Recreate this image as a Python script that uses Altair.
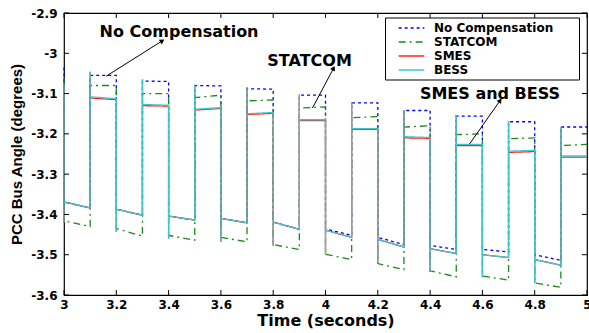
import math
import altair as alt
import pandas as pd

# ---------------- data ----------------
SERIES = ["No Compensation", "STATCOM", "SMES", "BESS"]
COLORS = ["#0000ff", "#1a8a1a", "#ff2020", "#3cc8c8"]
DASHES = [[3, 3], [7, 4, 2, 4], [1, 0], [1, 0]]

LOW_T0 = [3.0, 3.2, 3.4, 3.6, 3.8, 4.0, 4.2, 4.4, 4.6, 4.8]   # falling edges
HIGH_T0 = [3.1, 3.3, 3.5, 3.7, 3.9, 4.1, 4.3, 4.5, 4.7, 4.9]  # rising edges
PHASE_END = [3.2, 3.4, 3.6, 3.8, 4.0, 4.2, 4.4, 4.6, 4.8, 5.0]

NOCOMP_INIT = -3.035
NOCOMP_LOW_S = [-3.369, -3.387, -3.404, -3.410, -3.419, -3.436, -3.457, -3.477, -3.487, -3.500]
NOCOMP_LOW_E = [-3.384, -3.402, -3.414, -3.421, -3.437, -3.452, -3.475, -3.487, -3.493, -3.514]
NOCOMP_HIGH_S = [-3.055, -3.069, -3.080, -3.088, -3.104, -3.123, -3.142, -3.156, -3.170, -3.183]
NOCOMP_HIGH_E = [-3.055, -3.070, -3.081, -3.089, -3.104, -3.123, -3.142, -3.156, -3.170, -3.183]

STAT_INIT = -3.060
STAT_LOW_S = [-3.416, -3.435, -3.452, -3.457, -3.475, -3.499, -3.522, -3.540, -3.553, -3.570]
STAT_LOW_E = [-3.430, -3.454, -3.464, -3.468, -3.487, -3.512, -3.537, -3.555, -3.563, -3.581]
STAT_HIGH_S = [-3.080, -3.100, -3.110, -3.118, -3.136, -3.160, -3.183, -3.202, -3.212, -3.229]
STAT_HIGH_E = [-3.080, -3.100, -3.104, -3.116, -3.133, -3.157, -3.180, -3.200, -3.210, -3.226]

SMES_INIT = -3.078
SMES_DOWN = [-3.420, -3.443, -3.460, -3.468, -3.478, -3.499, -3.521, -3.543, -3.556, -3.571]
SMES_LOW_S = [-3.369, -3.387, -3.404, -3.410, -3.419, -3.439, -3.462, -3.485, -3.500, -3.512]
SMES_LOW_E = [-3.384, -3.402, -3.414, -3.421, -3.437, -3.457, -3.481, -3.497, -3.507, -3.526]
SMES_UP = [-3.046, -3.065, -3.079, -3.084, -3.102, -3.121, -3.141, -3.153, -3.168, -3.183]
SMES_HIGH_S = [-3.111, -3.130, -3.141, -3.152, -3.167, -3.189, -3.210, -3.229, -3.246, -3.258]
SMES_HIGH_E = [-3.115, -3.131, -3.137, -3.149, -3.167, -3.189, -3.211, -3.229, -3.244, -3.258]

BESS_INIT = -3.075
BESS_DOWN = [-3.420, -3.443, -3.460, -3.468, -3.478, -3.499, -3.521, -3.543, -3.556, -3.571]
BESS_LOW_S = [-3.369, -3.387, -3.404, -3.410, -3.419, -3.439, -3.462, -3.485, -3.500, -3.512]
BESS_LOW_E = [-3.384, -3.402, -3.414, -3.421, -3.437, -3.457, -3.481, -3.497, -3.507, -3.526]
BESS_UP = [-3.046, -3.065, -3.079, -3.084, -3.102, -3.121, -3.141, -3.153, -3.168, -3.183]
BESS_HIGH_S = [-3.108, -3.127, -3.139, -3.150, -3.165, -3.187, -3.207, -3.226, -3.243, -3.255]
BESS_HIGH_E = [-3.113, -3.129, -3.135, -3.147, -3.165, -3.187, -3.209, -3.226, -3.241, -3.255]

X_TICKS = [3.0, 3.2, 3.4, 3.6, 3.8, 4.0, 4.2, 4.4, 4.6, 4.8, 5.0]
Y_TICKS = [-3.6, -3.5, -3.4, -3.3, -3.2, -3.1, -3.0, -2.9]

ANN_LABELS = ["No Compensation", "STATCOM", "SMES and BESS"]
ANN_X = [3.440, 3.939, 4.629]
ANN_Y = [-2.948, -3.020, -3.100]
ARROW_TAIL_X = [3.161, 3.950, 4.551]
ARROW_TAIL_Y = [-3.057, -3.136, -3.225]
ARROW_HEAD_X = [3.376, 4.031, 4.668]
ARROW_HEAD_Y = [-2.969, -3.037, -3.117]

# ---------------- layout ----------------
W, H = 523, 282
X_DOM = [3.0, 5.0]
Y_DOM = [-3.6, -2.9]
FONT = "DejaVu Sans"


def build(name, init, low_s, low_e, high_s, high_e, down=None, up=None):
    rows = [(X_DOM[0], init)]
    for k in range(len(LOW_T0)):
        if down is not None:
            rows.append((LOW_T0[k], down[k]))
        rows.append((LOW_T0[k], low_s[k]))
        rows.append((HIGH_T0[k], low_e[k]))
        if up is not None:
            rows.append((HIGH_T0[k], up[k]))
        rows.append((HIGH_T0[k], high_s[k]))
        rows.append((PHASE_END[k], high_e[k]))
    return pd.DataFrame({"t": [r[0] for r in rows], "v": [r[1] for r in rows],
                         "i": list(range(len(rows))), "series": name})


frames = [
    build(SERIES[0], NOCOMP_INIT, NOCOMP_LOW_S, NOCOMP_LOW_E, NOCOMP_HIGH_S, NOCOMP_HIGH_E),
    build(SERIES[1], STAT_INIT, STAT_LOW_S, STAT_LOW_E, STAT_HIGH_S, STAT_HIGH_E),
    build(SERIES[2], SMES_INIT, SMES_LOW_S, SMES_LOW_E, SMES_HIGH_S, SMES_HIGH_E, SMES_DOWN, SMES_UP),
    build(SERIES[3], BESS_INIT, BESS_LOW_S, BESS_LOW_E, BESS_HIGH_S, BESS_HIGH_E, BESS_DOWN, BESS_UP),
]

label_expr = "replace(format(datum.value, '.1~f'), '\u2212', '-')"

x_enc = alt.X("t:Q", scale=alt.Scale(domain=X_DOM, nice=False, zero=False),
              axis=alt.Axis(values=X_TICKS, labelExpr=label_expr, title="Time (seconds)",
                            ticks=False, domain=False, grid=False, labelPadding=4,
                            labelFont=FONT, labelFontWeight="bold", labelFontSize=12,
                            labelColor="black", titleFont=FONT, titleFontWeight="bold",
                            titleFontSize=16, titleColor="black", titlePadding=2,
                            labelFlush=False))
y_enc = alt.Y("v:Q", scale=alt.Scale(domain=Y_DOM, nice=False, zero=False),
              axis=alt.Axis(values=Y_TICKS, labelExpr=label_expr, title="PCC Bus Angle (degrees)",
                            ticks=False, domain=False, grid=False, labelPadding=7,
                            labelFont=FONT, labelFontWeight="bold", labelFontSize=12,
                            labelColor="black", titleFont="Liberation Sans", titleFontWeight="bold",
                            titleFontSize=15, titleColor="black", titlePadding=6,
                            labelFlush=False))

# an invisible (white) legend title on the right only widens the box, as in the reference
legend = alt.Legend(orient="none", legendX=321, legendY=4.5, title="MM",
                    titleOrient="right", titleColor="white", titleFontSize=12, titlePadding=3,
                    strokeColor="black", fillColor="white", padding=3, cornerRadius=0,
                    labelFont=FONT, labelFontWeight="bold", labelFontSize=12,
                    labelColor="black", symbolType="M-2,0H2", symbolSize=165,
                    symbolOffset=16, symbolStrokeWidth=1.3, rowPadding=-2.4, labelOffset=15,
                    labelLimit=300)

color_enc = alt.Color("series:N", scale=alt.Scale(domain=SERIES, range=COLORS), legend=legend)
dash_enc = alt.StrokeDash("series:N", scale=alt.Scale(domain=SERIES, range=DASHES), legend=legend)

series_layers = [
    alt.Chart(df).mark_line(strokeWidth=1.3, interpolate="linear").encode(
        x=x_enc, y=y_enc, color=color_enc, strokeDash=dash_enc, order="i:Q")
    for df in frames
]

xt = pd.DataFrame({"t": X_TICKS})
yt = pd.DataFrame({"v": Y_TICKS})
tick_col = "black"
ticks = [
    alt.Chart(xt).mark_rule(color=tick_col, strokeWidth=1).encode(x=x_enc, y=alt.value(H), y2=alt.value(H - 5)),
    alt.Chart(xt).mark_rule(color=tick_col, strokeWidth=1).encode(x=x_enc, y=alt.value(0), y2=alt.value(5)),
    alt.Chart(yt).mark_rule(color=tick_col, strokeWidth=1).encode(y=y_enc, x=alt.value(0), x2=alt.value(5)),
    alt.Chart(yt).mark_rule(color=tick_col, strokeWidth=1).encode(y=y_enc, x=alt.value(W), x2=alt.value(W - 5)),
]

# annotations
ann = pd.DataFrame({"t": ANN_X, "v": ANN_Y, "label": ANN_LABELS})
texts = alt.Chart(ann).mark_text(font=FONT, fontWeight="bold", fontSize=16, color="black",
                                 align="center", baseline="middle").encode(x=x_enc, y=y_enc, text="label:N")

arrow_rows = []
for k in range(len(ARROW_TAIL_X)):
    arrow_rows.append({"t": ARROW_TAIL_X[k], "v": ARROW_TAIL_Y[k], "a": k, "i": 0})
    arrow_rows.append({"t": ARROW_HEAD_X[k], "v": ARROW_HEAD_Y[k], "a": k, "i": 1})
arrows = alt.Chart(pd.DataFrame(arrow_rows)).mark_line(color="black", strokeWidth=1).encode(
    x=x_enc, y=y_enc, detail="a:N", order="i:Q")

px_x = W / (X_DOM[1] - X_DOM[0])
px_y = H / (Y_DOM[1] - Y_DOM[0])
angles = []
for k in range(len(ARROW_TAIL_X)):
    dx = (ARROW_HEAD_X[k] - ARROW_TAIL_X[k]) * px_x
    dy = (ARROW_HEAD_Y[k] - ARROW_TAIL_Y[k]) * px_y
    angles.append((math.degrees(math.atan2(dx, dy)) + 360) % 360)
heads = alt.Chart(pd.DataFrame({"t": ARROW_HEAD_X, "v": ARROW_HEAD_Y, "ang": angles})).mark_point(
    shape="triangle-up", filled=True, color="black", size=30, opacity=1).encode(
    x=x_enc, y=y_enc, angle=alt.Angle("ang:Q", scale=None))

chart = alt.layer(*series_layers, *ticks, arrows, heads, texts).properties(
    width=W, height=H,
    autosize=alt.AutoSizeParams(type="none"),
    padding={"left": 64, "top": 13, "right": 2, "bottom": 38},
    background="white",
).configure_view(stroke="black", strokeWidth=1.2)

chart.save("out.html", embed_options={"renderer": "svg", "actions": False})
